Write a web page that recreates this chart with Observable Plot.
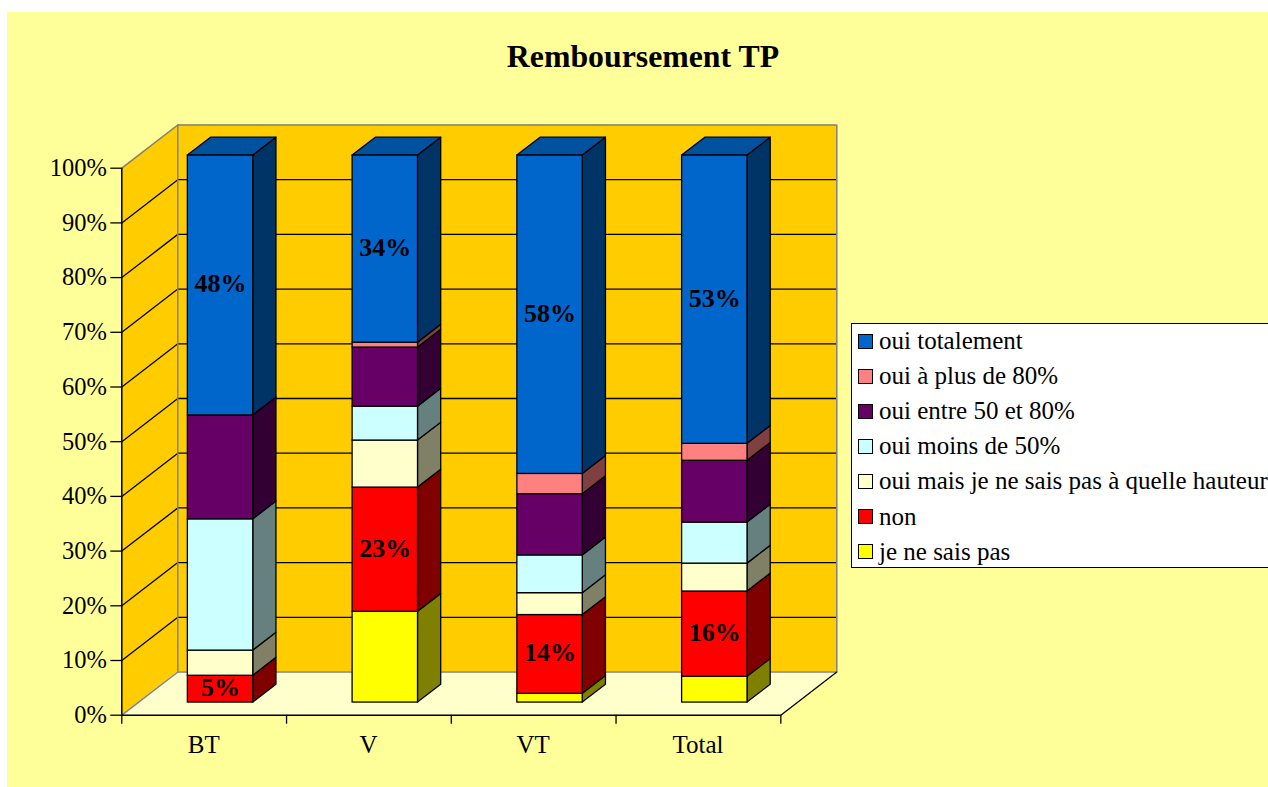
<!DOCTYPE html>
<html lang="fr">
<head>
<meta charset="utf-8">
<title>Remboursement TP</title>
<script src="https://cdn.jsdelivr.net/npm/d3@7"></script>
<script src="https://cdn.jsdelivr.net/npm/@observablehq/plot@0.6"></script>
<style>
  html, body { margin: 0; padding: 0; background: #fff; overflow: hidden; width: 1268px; height: 787px; }
  body { position: relative; font-family: "Liberation Serif", serif; color: #000; }
  #panel { position: absolute; left: 7px; top: 12px; right: 0; bottom: 0; background: #FFFF99; }
  #chart { position: absolute; left: 0; top: 0; }
  #title { position: absolute; left: 0; width: 1286px; top: 40px; text-align: center; font-size: 31.8px; line-height: 34px; font-weight: bold; }
  #legend { position: absolute; left: 851px; top: 323px; width: 430px; height: 243px; background: #fff; border: 1px solid #000; box-sizing: content-box; }
  #legend .row { position: absolute; left: 6px; display: flex; align-items: center; height: 24px; font-size: 25px; white-space: nowrap; }
  #legend .sw { width: 13px; height: 13px; border: 1.2px solid #000; margin-right: 6px; flex: none; }
</style>
</head>
<body>
<div id="panel"></div>
<div id="chart"></div>
<div id="title">Remboursement TP</div>
<div id="legend"></div>
<script>
const categories = ["BT", "V", "VT", "Total"];
const seriesNames = ["je ne sais pas", "non", "oui mais je ne sais pas à quelle hauteur", "oui moins de 50%", "oui entre 50 et 80%", "oui à plus de 80%", "oui totalement"];
const jeNeSaisPas = [0, 16.6, 1.6, 4.7];
const non = [4.9, 22.7, 14.4, 15.6];
const ouiMais = [4.6, 8.6, 4.0, 5.1];
const ouiMoins50 = [24.0, 6.2, 6.9, 7.5];
const ouiEntre = [19.0, 10.8, 11.2, 11.3];
const ouiPlus80 = [0, 0.9, 3.7, 3.1];
const ouiTotalement = [47.5, 34.2, 58.2, 52.7];
const seriesValues = [jeNeSaisPas, non, ouiMais, ouiMoins50, ouiEntre, ouiPlus80, ouiTotalement];
const frontColors = ["#FFFF00", "#FF0000", "#FFFFCC", "#CCFFFF", "#660066", "#FF8080", "#0066CC"];
const sideColors = ["#808000", "#800000", "#808066", "#668080", "#330033", "#804040", "#003366"];
const topColor = "#00529F";
const labelledSeries = ["non", "oui totalement"];
const yTicks = d3.range(0, 101, 10);

// Oblique depth, in data units: one full depth step on x (categories) and y (percent).
const DX = 0.34, DY = 7.9;
const barDepth = 0.2925, barDepthSize = 0.414, barHalf = 0.1985;

const segments = [];
categories.forEach((cat, c) => {
  let base = 0;
  seriesNames.forEach((name, s) => {
    const v = seriesValues[s][c];
    if (v > 0) {
      const cx = c + 0.5 + barDepth * DX;
      segments.push({
        id: cat + s, name, v,
        xl: cx - barHalf, xr: cx + barHalf, xm: cx,
        y0: base + barDepth * DY, y1: base + v + barDepth * DY,
        front: frontColors[s], side: sideColors[s]
      });
    }
    base += v;
  });
});
const sidePts = segments.flatMap(d => [
  {id: d.id, fill: d.side, x: d.xr, y1: d.y0, y2: d.y1},
  {id: d.id, fill: d.side, x: d.xr + barDepthSize * DX, y1: d.y0 + barDepthSize * DY, y2: d.y1 + barDepthSize * DY}
]);
const topSegs = segments.filter(d => d.name === "oui totalement");
const topPts = topSegs.flatMap(d => [
  {id: d.id, y: d.y1, x1: d.xl, x2: d.xr},
  {id: d.id, y: d.y1 + barDepthSize * DY, x1: d.xl + barDepthSize * DX, x2: d.xr + barDepthSize * DX}
]);
const leftWall = [{x: 0, y1: 0, y2: 100}, {x: DX, y1: DY, y2: 100 + DY}];
const floor = [{y: 0, x1: 0, x2: 4}, {y: DY, x1: DX, x2: 4 + DX}];
const leftGrid = yTicks.flatMap(t => [{t, x: 0, y: t}, {t, x: DX, y: t + DY}]);
const innerTicks = yTicks.filter(t => t > 0 && t < 100);
const gray = "#808080";
const edge = 1.3;

const plot = Plot.plot({
  width: 1268, height: 787,
  marginLeft: 121.3, marginRight: 487.7, marginTop: 167.7, marginBottom: 72.3,
  x: {domain: [0, 4], axis: null},
  y: {domain: [0, 100], axis: null},
  color: {type: "identity"},
  style: {background: "transparent", fontFamily: "'Liberation Serif', serif", color: "#000"},
  marks: [
    // walls and floor
    Plot.rect([0], {x1: DX, x2: 4 + DX, y1: DY, y2: 100 + DY, fill: "#FFCC00"}),
    Plot.area(leftWall, {x1: "x", y1: "y1", y2: "y2", fill: "#FFCC00"}),
    Plot.area(floor, {y1: "y", x1: "x1", x2: "x2", fill: "#FFFFCC"}),
    // gridlines
    Plot.ruleY(innerTicks, {y: d => d + DY, x1: DX, x2: 4 + DX, stroke: "#000", strokeWidth: edge}),
    Plot.line(leftGrid.filter(d => d.t > 0 && d.t < 100), {x: "x", y: "y", z: "t", stroke: "#000", strokeWidth: edge}),
    // wall edges
    Plot.line(leftGrid.filter(d => d.t === 0 || d.t === 100), {x: "x", y: "y", z: "t", stroke: gray, strokeWidth: 1.5}),
    Plot.ruleY([100 + DY, DY], {x1: DX, x2: 4 + DX, stroke: gray, strokeWidth: 1.5}),
    Plot.ruleX([DX, 4 + DX], {y1: DY, y2: 100 + DY, stroke: gray, strokeWidth: 1.5}),
    // floor front edges
    Plot.line([{x: 4, y: 0}, {x: 4 + DX, y: DY}], {x: "x", y: "y", stroke: "#000", strokeWidth: edge}),
    // axes
    Plot.ruleX([0], {y1: 0, y2: 100, stroke: "#000", strokeWidth: 1.5}),
    Plot.ruleY([0], {x1: 0, x2: 4, stroke: "#000", strokeWidth: 1.5}),
    Plot.axisY({ticks: yTicks, tickFormat: d => d + "%", tickSize: 11, tickPadding: 4, fontSize: 24.5, label: null, stroke: "#000", strokeWidth: edge}),
    Plot.axisX({ticks: [0, 1, 2, 3, 4], tickFormat: () => "", tickSize: 9, label: null, stroke: "#000", strokeWidth: edge}),
    Plot.axisX({ticks: [0.5, 1.5, 2.5, 3.5], tickFormat: d => categories[d - 0.5], tickSize: 0, tickPadding: 20, fontSize: 25, label: null, dx: -0.5}),
    // bars
    Plot.area(sidePts, {x1: "x", y1: "y1", y2: "y2", z: "id", fill: "fill", stroke: "#000", strokeWidth: edge}),
    Plot.area(topPts, {y1: "y", x1: "x1", x2: "x2", z: "id", fill: topColor, stroke: "#000", strokeWidth: edge}),
    Plot.rect(segments, {x1: "xl", x2: "xr", y1: "y0", y2: "y1", fill: "front", stroke: "#000", strokeWidth: edge}),
    // data labels
    Plot.text(segments.filter(d => labelledSeries.includes(d.name)), {
      x: "xm", y: d => (d.y0 + d.y1) / 2, text: d => Math.round(d.v) + "%",
      fontSize: 26, fontWeight: "bold", fill: "#000", dy: -1.5
    })
  ]
});
document.getElementById("chart").appendChild(plot);

const legendNames = seriesNames.slice().reverse();
const legendColors = frontColors.slice().reverse();
const legend = document.getElementById("legend");
legendNames.forEach((name, i) => {
  const row = document.createElement("div");
  row.className = "row";
  row.style.top = (5 + i * 35.1) + "px";
  const sw = document.createElement("span");
  sw.className = "sw";
  sw.style.background = legendColors[i];
  const tx = document.createElement("span");
  tx.textContent = name;
  row.append(sw, tx);
  legend.appendChild(row);
});
</script>
</body>
</html>
